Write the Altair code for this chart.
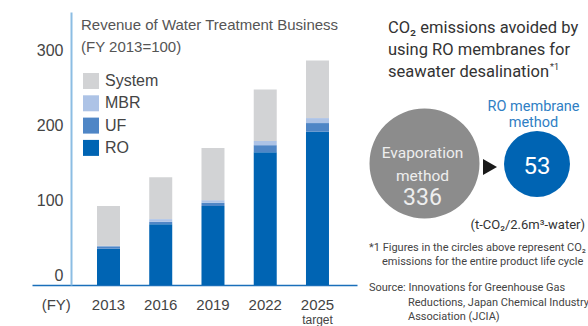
import altair as alt
import pandas as pd

# ---- data ----
years = ["2013", "2016", "2019", "2022", "2025"]
segments = ["RO", "UF", "MBR", "System"]
ro = [46, 77, 100, 168, 194]
uf = [3, 3, 4, 9, 11]
mbr = [0.5, 3.4, 3.4, 5.4, 6.3]
system = [50.5, 53, 66, 65, 73]
x_domain = ["(FY)"] + years
y_ticks = [0, 100, 200, 300]
seg_colors = ["#d2d3d5", "#adc3e6", "#4f86c6", "#0064b3"]  # System, MBR, UF, RO

title_lines = ["Revenue of Water Treatment Business", "(FY 2013=100)"]
right_title = ["CO₂ emissions avoided by", "using RO membranes for", "seawater desalination"]
evap_label = ["Evaporation", "method"]
evap_value = "336"
ro_label = ["RO membrane", "method"]
ro_value = "53"
unit_text = "(t-CO₂/2.6m³-water)"
note_lines = ["*1 Figures in the circles above represent CO₂",
              "emissions for the entire product life cycle"]
source_lines = ["Source: Innovations for Greenhouse Gas",
                "Reductions, Japan Chemical Industry",
                "Association (JCIA)"]

rows = []
for i, y in enumerate(years):
    for k, (seg, vals) in enumerate(zip(segments, [ro, uf, mbr, system])):
        rows.append({"year": y, "segment": seg, "value": vals[i], "ord": k})
df = pd.DataFrame(rows)

SANS = "Liberation Sans, Arial, Roboto"
COND = "Roboto"

xscale = alt.Scale(domain=x_domain, paddingInner=0.56, paddingOuter=0.39, align=0.3125)

bars = alt.Chart(df).mark_bar(size=23).encode(
    x=alt.X("year:N", scale=xscale,
            axis=alt.Axis(title=None, labelAngle=0, ticks=False, domainColor="#1a6fba",
                          domainWidth=1.5, labelFontSize=15, labelColor="#444444",
                          labelFont=SANS, labelPadding=12)),
    y=alt.Y("value:Q", stack="zero", scale=alt.Scale(domain=[0, 345.6], nice=False), axis=None),
    color=alt.Color("segment:N",
                    scale=alt.Scale(domain=["System", "MBR", "UF", "RO"], range=seg_colors),
                    legend=alt.Legend(orient="none", legendX=51, legendY=61, title=None,
                                      symbolType="square", symbolSize=256, symbolStrokeWidth=0,
                                      labelFontSize=16, labelOffset=6, rowPadding=6.3,
                                      padding=0, labelColor="#444444", labelFont=SANS,
                                      symbolOpacity=1)),
    order=alt.Order("ord:Q", sort="ascending"),
)

tick_df = pd.DataFrame({"v": y_ticks})
yaxis_layer = alt.Chart(tick_df).mark_text(opacity=0).encode(
    y=alt.Y("v:Q", scale=alt.Scale(domain=[-13.33, 350.67], nice=False, zero=False),
            axis=alt.Axis(orient="left", offset=-39, values=y_ticks, ticks=False, grid=False,
                          title=None, domainColor="#8cbde3", domainWidth=2,
                          labelFontSize=16, labelColor="#444444", labelFont=SANS,
                          labelPadding=8)),
    text="v:Q",
)

target_layer = alt.Chart(pd.DataFrame({"year": ["2025"], "t": ["target"]})).mark_text(
    fontSize=12, font=SANS, color="#444444", baseline="middle").encode(
    x=alt.X("year:N", scale=xscale), y=alt.value(308), text="t:N")


def txt(s, x, y, size, color="#444444", align="left", font=COND, baseline="middle"):
    return alt.Chart(pd.DataFrame({"t": [s]})).mark_text(
        fontSize=size, font=font, color=color, align=align, baseline=baseline).encode(
        x=alt.value(x), y=alt.value(y), text="t:N")


def dot(x, y, d, color):
    return alt.Chart(pd.DataFrame({"a": [0]})).mark_circle(color=color, opacity=1).encode(
        x=alt.value(x), y=alt.value(y), size=alt.value(d * d))


layers = [bars, yaxis_layer, target_layer,
          txt(title_lines[0], 49, 13, 15, "#555555", font=SANS),
          txt(title_lines[1], 49, 35, 15, "#555555", font=SANS),
          txt(right_title[0], 356, 16, 16.5, "#333333"),
          txt(right_title[1], 356, 38, 16.5, "#333333"),
          txt(right_title[2], 356, 60, 16.5, "#333333"),
          txt("*1", 518, 55, 9, "#333333"),
          dot(392.5, 151.5, 110, "#8c8c8c"),
          dot(505, 152, 66, "#0064b3"),
          alt.Chart(pd.DataFrame({"a": [0]})).mark_point(shape="triangle-right", filled=True,
                                                          color="#1a1a1a", opacity=1).encode(
              x=alt.value(458), y=alt.value(155), size=alt.value(260)),
          txt(evap_label[0], 390.5, 141, 15.5, "#eeeeee", "center"),
          txt(evap_label[1], 390.5, 164, 15.5, "#eeeeee", "center"),
          txt(evap_value, 390.5, 186, 23, "#eeeeee", "center"),
          txt(ro_value, 505, 155, 24, "#ffffff", "center"),
          txt(ro_label[0], 501.5, 95, 14.5, "#2f80c4", "center"),
          txt(ro_label[1], 501.5, 111, 14.5, "#2f80c4", "center"),
          txt(unit_text, 553, 213, 13, "#333333", "right"),
          txt(note_lines[0], 337, 236, 11, "#444444"),
          txt(note_lines[1], 350, 250, 11, "#444444"),
          txt(source_lines[0], 337, 276, 11, "#444444"),
          txt(source_lines[1], 376, 291, 11, "#444444"),
          txt(source_lines[2], 376, 305, 11, "#444444"),
          ]

chart = alt.layer(*layers).resolve_scale(y="independent").properties(
    width=325, height=273, autosize="none", background="white",
    padding={"left": 32, "top": 12, "right": 231, "bottom": 41},
).configure_view(strokeWidth=0, stroke=None)

chart.save("out.html", embed_options={"renderer": "svg", "actions": False})
